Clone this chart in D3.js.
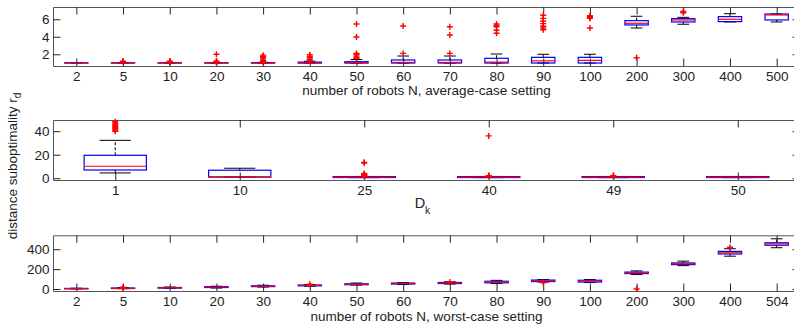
<!DOCTYPE html>
<html><head><meta charset="utf-8">
<script src="https://cdn.jsdelivr.net/npm/d3@7"></script>
<style>
body{margin:0;background:#fff;}
svg{display:block;font-family:"Liberation Sans",Arial,Helvetica,sans-serif;}
</style></head>
<body><svg id="c" width="794" height="324"></svg>
<script>
// ---- Panel 1: average-case setting ----
const avgCats = ["2","5","10","20","30","40","50","60","70","80","90","100","200","300","400","500"];
const avgMed  = [1,1,1,1,1,1.02,1.03,1.07,1.07,1.1,1.25,1.3,5.54,5.92,6.0,6.49];
const avgQ1   = [1,1,1,1,1,1,1,1,1,1,1,1,5.35,5.69,5.73,5.92];
const avgQ3   = [1.03,1.03,1.03,1.03,1.04,1.1,1.15,1.35,1.35,1.54,1.65,1.65,5.84,6.07,6.3,6.6];
const avgWLo  = [1,1,1,1,1,1,1,1,1,1,1,1,5.0,5.43,5.69,5.69];
const avgWHi  = [1.05,1.05,1.05,1.05,1.08,1.2,1.4,1.8,1.8,2.03,2.0,2.0,6.34,6.22,6.64,6.6];
const avgOut  = [[],[1.15,1.2],[1.1,1.15,1.2],[1.1,1.15,1.2,2.0],[1.1,1.2,1.3,1.45,1.6,1.75,1.9],
  [1.25,1.35,1.45,1.6,1.75,1.95],[1.5,1.65,1.8,2.0,2.1,3.97,5.46],[2.1,5.23],[2.1,4.2,5.15],
  [4.4,4.75,5.15,5.3,5.45],[4.8,5.0,5.2,5.5,5.8,6.1,6.45],[5.0,6.1,6.2,6.3,6.4],[1.6],[6.75,6.9],[],[]];
const avgTicks = [2,4,6];

// ---- Panel 2: D_k ----
const dkCats = ["1","10","25","40","49","50"];
const dkMed  = [10.2,1.2,1,1,1,1];
const dkQ1   = [7,1,0.6,0.6,0.6,0.6];
const dkQ3   = [19.5,6.8,1.4,1.4,1.4,1.4];
const dkWLo  = [4.5,1,0.5,0.5,0.5,0.5];
const dkWHi  = [32.2,8.5,1.5,1.5,1.5,1.5];
const dkOut  = [[40,41,42,43,44,45,46,47,48],[],[13.5,13,2,2.5,3,3.5,4],[36,1.8,2.2],[1.8,2.2],[]];
const dkTicks = [0,20,40];

// ---- Panel 3: worst-case setting ----
const wCats = ["2","5","10","20","30","40","50","60","70","80","90","100","200","300","400","504"];
const wMed  = [4,7,12,20,28,36,47,55,60,70,82,80,162,254,364,454];
const wQ1   = [2,5,9,15,24,32,43,50,55,62,75,70,155,245,352,440];
const wQ3   = [6,10,15,24,32,40,52,60,66,78,90,88,170,262,378,465];
const wWLo  = [1,3,6,10,20,28,40,45,50,55,70,65,145,235,330,415];
const wWHi  = [8,14,20,28,38,45,60,65,72,87,95,95,182,280,405,505];
const wOut  = [[],[10,18],[],[],[],[48],[],[],[70],[],[62],[],[0],[],[420],[]];
const wTicks = [0,200,400];

const svg = d3.select("#c");
const L = 53, R = 800, TXT = "#222", AX = "#555";
const TL = 7.5, FS = "13.5px";

function panel(cfg){
  const n = cfg.cats.length;
  const x = d3.scaleLinear().domain([0.5, n + 0.5]).range([L, R]);
  const y = d3.scaleLinear().domain(cfg.dom).range([cfg.bot, cfg.top]);
  const g = svg.append("g");
  const idx = d3.range(1, n + 1);
  const fmt = i => cfg.cats[i - 1];
  const ab = g.append("g").attr("transform", `translate(0,${cfg.bot})`)
    .call(d3.axisBottom(x).tickValues(idx).tickFormat(fmt).tickSizeInner(-TL).tickSizeOuter(0).tickPadding(5));
  const at = g.append("g").attr("transform", `translate(0,${cfg.top})`)
    .call(d3.axisTop(x).tickValues(idx).tickFormat("").tickSizeInner(-TL).tickSizeOuter(0));
  const al = g.append("g").attr("transform", `translate(${L},0)`)
    .call(d3.axisLeft(y).tickValues(cfg.ticks).tickFormat(d3.format("d")).tickSizeInner(-TL).tickSizeOuter(0).tickPadding(3.5));
  const ar = g.append("g").attr("transform", `translate(${R},0)`)
    .call(d3.axisRight(y).tickValues(cfg.ticks).tickFormat("").tickSizeInner(-TL).tickSizeOuter(0));
  [ab, at, al, ar].forEach(a => {
    a.select(".domain").attr("stroke", AX).attr("stroke-width", 1);
    a.selectAll(".tick line").attr("stroke", "#262626");
    a.selectAll("text").attr("fill", TXT).style("font-size", FS);
  });
  const bw = 0.5, cw = 0.25;
  const data = idx.map(i => ({i, med: cfg.med[i-1], q1: cfg.q1[i-1], q3: cfg.q3[i-1],
    lo: cfg.wlo[i-1], hi: cfg.whi[i-1], out: cfg.out[i-1]}));
  const b = g.append("g").selectAll("g").data(data).join("g");
  b.append("line").attr("x1", d => x(d.i)).attr("x2", d => x(d.i))
    .attr("y1", d => y(d.q3)).attr("y2", d => y(d.hi))
    .attr("stroke", "#000").attr("stroke-dasharray", "3,2");
  b.append("line").attr("x1", d => x(d.i)).attr("x2", d => x(d.i))
    .attr("y1", d => y(d.q1)).attr("y2", d => y(d.lo))
    .attr("stroke", "#000").attr("stroke-dasharray", "3,2");
  b.append("line").attr("x1", d => x(d.i - cw/2)).attr("x2", d => x(d.i + cw/2))
    .attr("y1", d => y(d.hi)).attr("y2", d => y(d.hi)).attr("stroke", "#000");
  b.append("line").attr("x1", d => x(d.i - cw/2)).attr("x2", d => x(d.i + cw/2))
    .attr("y1", d => y(d.lo)).attr("y2", d => y(d.lo)).attr("stroke", "#000");
  b.append("rect").attr("x", d => x(d.i - bw/2)).attr("width", d => x(d.i + bw/2) - x(d.i - bw/2))
    .attr("y", d => y(d.q3)).attr("height", d => Math.max(0, y(d.q1) - y(d.q3)))
    .attr("fill", "none").attr("stroke", "#0000ff").attr("stroke-width", 1.2);
  b.append("line").attr("x1", d => x(d.i - bw/2)).attr("x2", d => x(d.i + bw/2))
    .attr("y1", d => y(d.med)).attr("y2", d => y(d.med)).attr("stroke", "#ff0000").attr("stroke-width", 1.2);
  b.selectAll("path.o").data(d => d.out.map(v => ({i: d.i, v}))).join("path").attr("class", "o")
    .attr("transform", o => `translate(${x(o.i)},${y(o.v)})`)
    .attr("d", "M-3,0H3M0,-3V3").attr("stroke", "#ff0000").attr("stroke-width", 1.4).attr("fill", "none");
  return {x, y};
}

panel({cats: avgCats, med: avgMed, q1: avgQ1, q3: avgQ3, wlo: avgWLo, whi: avgWHi, out: avgOut,
  ticks: avgTicks, dom: [0.66, 7.4], top: 7, bot: 66});
panel({cats: dkCats, med: dkMed, q1: dkQ1, q3: dkQ3, wlo: dkWLo, whi: dkWHi, out: dkOut,
  ticks: dkTicks, dom: [-1.5, 49.5], top: 120, bot: 180});
panel({cats: wCats, med: wMed, q1: wQ1, q3: wQ3, wlo: wWLo, whi: wWHi, out: wOut,
  ticks: wTicks, dom: [-20, 540], top: 235.3, bot: 291});

const cx = (L + R) / 2;
svg.append("text").attr("x", cx).attr("y", 94.5).attr("text-anchor", "middle")
  .attr("fill", TXT).style("font-size", FS).text("number of robots N, average-case setting");
const dk = svg.append("text").attr("x", cx - 4).attr("y", 208).attr("text-anchor", "middle")
  .attr("fill", TXT).style("font-size", "14.5px");
dk.append("tspan").text("D");
dk.append("tspan").attr("dy", 6).style("font-size", "10.5px").text("k");
svg.append("text").attr("x", cx).attr("y", 320.5).attr("text-anchor", "middle")
  .attr("fill", TXT).style("font-size", FS).text("number of robots N, worst-case setting");
const yl = svg.append("text").attr("transform", "translate(17,166) rotate(-90)").attr("text-anchor", "middle")
  .attr("fill", TXT).style("font-size", FS);
yl.append("tspan").text("distance suboptimality r");
yl.append("tspan").attr("dy", 4).style("font-size", "10px").text("d");
</script></body></html>
